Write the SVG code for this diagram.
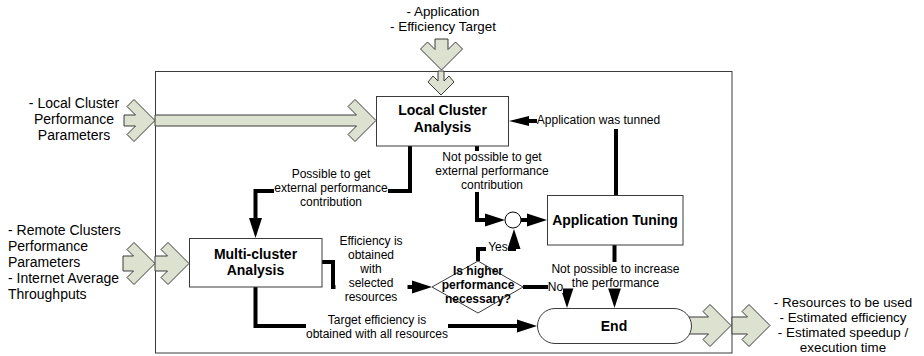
<svg xmlns="http://www.w3.org/2000/svg" width="924" height="356" viewBox="0 0 924 356">
<defs>
<style>
.frame{fill:none;stroke:#3a3a3a;stroke-width:1}
.box{fill:#fff;stroke:#3a3a3a;stroke-width:1}
.conn{fill:none;stroke:#000;stroke-width:4}
.blk{fill:#dde1cf;stroke:#3a3a3a;stroke-width:1}
.bg{fill:#fff}
text{font-family:"Liberation Sans",Arial,sans-serif;fill:#000}
.t{font-size:14px}
.ts{font-size:13.4px}
.b{font-size:14px;font-weight:bold}
.bs{font-size:12px;font-weight:bold}
.l{font-size:12px}
.m{text-anchor:middle}
</style>
<marker id="ah" markerUnits="userSpaceOnUse" markerWidth="21" markerHeight="14" refX="0" refY="6.5" orient="auto" overflow="visible">
<path d="M0,0 L20,6.5 L0,13 z" fill="#000"/>
</marker>
<marker id="ah2" markerUnits="userSpaceOnUse" markerWidth="21" markerHeight="12" refX="0" refY="5" orient="auto" overflow="visible">
<path d="M0,0 L20,5 L0,10 z" fill="#000"/>
</marker>
</defs>

<rect id="frame" class="frame" x="155.5" y="71.5" width="576.5" height="281.5"/>

<g id="connectors">
<polygon class="blk" points="435,39 435,49.5 427.5,42 420.5,49 441.5,70 462.5,49 455.5,42 448,49.5 448,39"/>
<polygon class="blk" points="438,71 438,81 433,76 428,82 441,95 454,82 449,76 444,81 444,71"/>
<polygon class="blk" points="124,115 135.5,115 127,106.5 134,99.5 155,120.5 134,141.5 127,134.5 135.5,126 124,126"/>
<polygon class="blk" points="155,115 356.5,115 348,106.5 355,99.5 376,120.5 355,141.5 348,134.5 356.5,126 155,126"/>
<polygon class="blk" points="123,256 133.5,256 127,249.5 134,242.5 155,263.5 134,284.5 127,277.5 133.5,271 123,271"/>
<polygon class="blk" points="155,256 167.5,256 161,249.5 168,242.5 189,263.5 168,284.5 161,277.5 167.5,271 155,271"/>
<polygon class="blk" points="680,317 708.5,317 703,311.5 710,304.5 731,325.5 710,346.5 703,339.5 708.5,334 680,334"/>
<polygon class="blk" points="732,317 747.5,317 742,311.5 749,304.5 770,325.5 749,346.5 742,339.5 747.5,334 732,334"/>

<path class="conn" d="M410,146 V191 H255.5 V218" marker-end="url(#ah)"/>
<path class="conn" d="M477,146 V220 H485" marker-end="url(#ah)"/>
<path class="conn" d="M521,220 H527" marker-end="url(#ah)"/>
<path class="conn" d="M616,195 V121 H529" marker-end="url(#ah2)"/>
<path class="conn" d="M322,262 H333 V287 H412" marker-end="url(#ah)"/>
<path class="conn" d="M478,261 V249 H514 V248.9" marker-end="url(#ah)"/>
<path class="conn" d="M523,287 H567 V288" marker-end="url(#ah)"/>
<path class="conn" d="M614.5,245 V288" marker-end="url(#ah)"/>
<path class="conn" d="M255.5,287 V326 H517" marker-end="url(#ah)"/>

<g id="labels">
<rect class="bg" x="274" y="167" width="114" height="43"/>
<text class="l m" x="331" y="178">Possible to get</text>
<text class="l m" x="331" y="192">external performance</text>
<text class="l m" x="331" y="206">contribution</text>

<rect class="bg" x="436" y="151" width="112" height="41"/>
<text class="l m" x="492" y="161">Not possible to get</text>
<text class="l m" x="492" y="175">external performance</text>
<text class="l m" x="492" y="189">contribution</text>

<rect class="bg" x="537" y="113" width="123" height="16"/>
<text class="l m" x="598.5" y="124">Application was tunned</text>

<rect class="bg" x="335.5" y="234" width="72" height="71"/>
<text class="l m" x="371" y="245">Efficiency is</text>
<text class="l m" x="371" y="259">obtained</text>
<text class="l m" x="371" y="273">with</text>
<text class="l m" x="371" y="287">selected</text>
<text class="l m" x="371" y="301">resources</text>

<rect class="bg" x="306" y="312" width="142" height="29"/>
<text class="l m" x="377" y="324">Target efficiency is</text>
<text class="l m" x="377" y="338">obtained with all resources</text>

<rect class="bg" x="552" y="262" width="127" height="26.5"/>
<text class="l m" x="615.5" y="273">Not possible to increase</text>
<text class="l m" x="615.5" y="287">the performance</text>

<rect class="bg" x="486" y="240" width="22" height="13"/>
<text class="l m" x="498" y="251">Yes</text>

<rect class="bg" x="548" y="281" width="15" height="12"/>
<text class="l m" x="555.5" y="291">No</text>
</g>
</g>

<g id="local-cluster-analysis">
<rect class="box" x="376.5" y="96.5" width="132" height="49.5"/>
<text class="b m" x="442.5" y="115">Local Cluster</text>
<text class="b m" x="442.5" y="132">Analysis</text>
</g>

<g id="multi-cluster-analysis">
<rect class="box" x="189.5" y="238.5" width="132.5" height="48.5"/>
<text class="b m" x="255.5" y="259">Multi-cluster</text>
<text class="b m" x="255.5" y="275">Analysis</text>
</g>

<g id="application-tuning">
<rect class="box" x="547.5" y="195.5" width="135.5" height="49.5"/>
<text class="b m" x="615" y="225">Application Tuning</text>
</g>

<g id="junction">
<circle cx="513" cy="220" r="8" fill="#fff" stroke="#000" stroke-width="1"/>
</g>

<g id="decision">
<polygon class="box" points="478,261 523,287 478,313 432,287"/>
<text class="bs m" x="478" y="275">Is higher</text>
<text class="bs m" x="478" y="289">performance</text>
<text class="bs m" x="478" y="303">necessary?</text>
</g>

<g id="end">
<rect class="box" x="537.5" y="308.5" width="154" height="35" rx="17.5" ry="17.5"/>
<text class="b m" x="614" y="331">End</text>
</g>

<g id="input-application">
<text class="ts m" x="443" y="16">- Application</text>
<text class="ts m" x="443" y="31">- Efficiency Target</text>
</g>

<g id="input-local">
<text class="t m" x="74" y="108">- Local Cluster</text>
<text class="t m" x="74" y="124">Performance</text>
<text class="t m" x="74" y="140">Parameters</text>
</g>

<g id="input-remote">
<text class="t" x="8" y="235">- Remote Clusters</text>
<text class="t" x="8" y="251">Performance</text>
<text class="t" x="8" y="267">Parameters</text>
<text class="t" x="8" y="283">- Internet Average</text>
<text class="t" x="8" y="299">Throughputs</text>
</g>

<g id="output">
<text class="ts m" x="843" y="307">- Resources to be used</text>
<text class="ts m" x="843" y="322">- Estimated efficiency</text>
<text class="ts m" x="843" y="337">- Estimated speedup /</text>
<text class="ts m" x="843" y="352">execution time</text>
</g>
</svg>
